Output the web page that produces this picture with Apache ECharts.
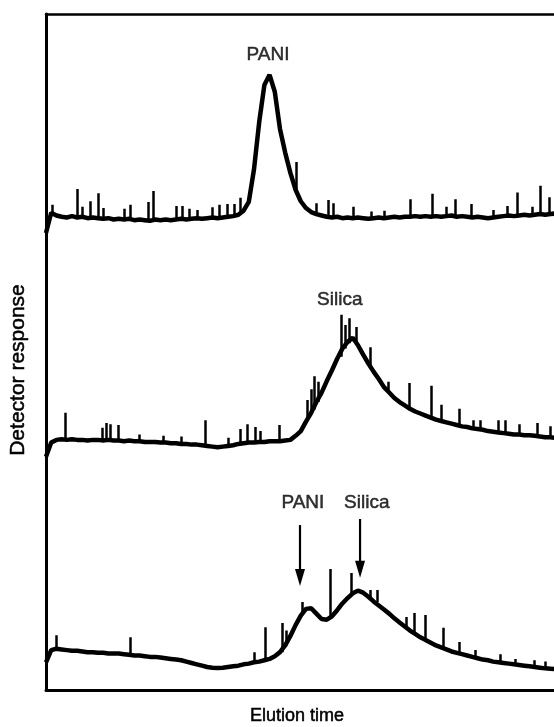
<!DOCTYPE html>
<html><head><meta charset="utf-8">
<script src="https://cdn.jsdelivr.net/npm/echarts@6/dist/echarts.min.js"></script>
<style>html,body{margin:0;padding:0;background:#fff}#c{width:554px;height:727px}</style>
</head><body><div id="c"></div>
<script>
// Detector response (arbitrary units, traces offset vertically), one value per sample index
const traceTop = [67.6,70.6,70.2,70.0,69.9,70.1,69.9,70.0,69.8,69.9,
 69.8,69.7,69.8,69.6,69.7,69.6,69.7,69.5,69.6,69.5,
 69.4,69.6,69.5,69.6,69.5,69.6,69.7,69.6,69.7,69.8,
 69.7,69.8,69.9,69.8,69.9,70.0,70.1,70.3,70.9,72.2,
 77.0,84.0,89.5,91.0,88.5,83.0,79.5,76.5,74.0,72.3,
 71.3,70.7,70.4,70.2,70.0,69.9,70.0,69.8,69.9,69.8,
 69.9,69.8,69.7,69.8,69.9,69.8,69.9,70.0,69.9,70.0,
 70.0,70.1,70.0,70.1,70.0,70.1,70.0,70.1,70.2,70.0,
 70.1,70.0,69.9,70.0,69.9,69.8,69.9,70.0,70.1,70.2,
 70.1,70.2,70.3,70.2,70.3,70.4,70.3,70.4,70.5,70.4,
 70.5];
const traceMiddle = [34.5,36.6,37.0,37.1,37.0,37.1,37.0,37.0,36.9,37.0,
 37.0,36.9,37.0,36.9,36.9,36.8,36.9,36.8,36.8,36.7,
 36.7,36.7,36.6,36.6,36.5,36.5,36.4,36.4,36.3,36.3,
 36.2,36.1,36.0,35.9,36.0,36.1,36.2,36.4,36.5,36.6,
 36.6,36.7,36.7,36.8,36.8,36.8,36.9,37.0,37.6,38.3,
 39.7,41.0,42.6,44.0,45.7,47.3,49.0,50.5,51.5,52.1,
 51.0,49.6,48.3,47.1,46.0,44.8,44.0,43.2,42.6,42.1,
 41.6,41.2,40.9,40.6,40.3,40.0,39.8,39.6,39.4,39.2,
 39.0,38.9,38.7,38.6,38.5,38.3,38.2,38.1,38.0,37.9,
 37.8,37.8,37.7,37.7,37.6,37.5,37.4,37.4,37.3,37.3,
 37.2];
const traceBottom = [4.1,5.9,6.1,6.0,5.9,5.8,5.8,5.7,5.6,5.6,
 5.5,5.5,5.4,5.4,5.4,5.3,5.2,5.1,5.1,5.0,
 4.9,4.9,4.8,4.7,4.6,4.5,4.4,4.2,4.0,3.8,
 3.6,3.4,3.3,3.25,3.3,3.4,3.5,3.6,3.8,3.9,
 4.1,4.2,4.4,4.6,5.0,5.6,6.6,8.0,9.6,11.0,
 12.0,12.1,11.3,10.5,10.4,10.9,11.8,12.8,13.6,14.3,
 14.7,14.4,13.8,13.1,12.5,11.9,11.3,10.6,10.0,9.4,
 8.8,8.3,7.8,7.4,7.0,6.6,6.3,6.0,5.7,5.5,
 5.3,5.1,4.9,4.7,4.5,4.4,4.2,4.1,4.0,3.9,
 3.8,3.7,3.6,3.5,3.4,3.3,3.2,3.15,3.1,3.05,
 3.0];

// Noise spikes: [time, base, top]
const spikesTop = [[1.2,70.3,71.8],[6.0,69.9,74.1],[7.0,69.9,71.5],[8.5,69.8,72.3],[10.0,69.8,73.5],
 [11.0,69.7,71.3],[15.0,69.6,71.2],[16.2,69.7,71.8],[19.6,69.5,72.2],[20.6,69.4,73.8],
 [25.0,69.5,71.6],[26.2,69.7,71.6],[27.5,69.6,71.2],[29.0,69.8,71.0],[31.9,69.9,71.4],
 [33.3,69.8,71.8],[34.8,69.9,71.9],[36.2,70.1,71.9],[37.3,70.3,72.8],[48.1,74.0,78.1],[52.0,70.4,72.0],
 [54.2,70.0,72.5],[55.3,69.9,72.0],[59.0,69.8,71.5],[62.5,69.8,70.8],[65.0,69.8,70.9],[70.0,70.0,72.6],
 [74.2,70.0,73.4],[77.0,70.1,71.5],[78.7,70.2,72.6],[81.7,70.0,71.9],[86.0,69.9,71.0],
 [88.7,70.1,71.6],[90.6,70.1,73.6],[93.5,70.2,71.5],[95.0,70.4,74.6],[96.7,70.3,72.9]];
const spikesMiddle = [[3.65,37.0,41.0],[10.8,37.0,38.8],[11.5,37.0,39.5],[12.3,37.0,39.3],[13.8,36.9,39.2],
 [18.0,36.8,37.8],[22.5,36.7,37.6],[26.0,36.5,37.5],[30.6,36.2,39.9],[35.0,36.0,37.3],
 [37.3,36.4,38.6],[38.7,36.5,39.3],[40.2,36.6,38.9],[41.3,36.7,38.3],[44.8,36.8,39.2],
 [50.2,39.8,42.9],[51.0,41.0,44.5],[51.5,41.5,46.4],[52.3,42.6,45.6],[56.7,49.3,55.5],
 [57.5,50.5,54.0],[58.3,51.3,55.0],[59.6,51.3,53.7],[62.3,48.0,50.7],[65.8,44.2,45.6],
 [69.8,41.7,45.4],[74.0,40.3,45.0],[76.0,39.8,42.2],[79.4,39.1,41.6],[82.1,38.7,39.9],
 [83.5,38.5,39.9],[86.9,38.1,39.9],[88.3,38.0,39.9],[91.0,37.8,39.3],[94.4,37.6,39.5],
 [97.0,37.3,39.0]];
const spikesBottom = [[1.9,6.1,8.1],[16.2,5.2,7.8],[40.0,4.1,5.6],[42.1,4.4,9.3],[45.4,5.6,9.9],
 [46.3,6.6,8.8],[49.2,11.2,13.0],[54.6,10.6,17.9],[58.7,14.0,17.3],[62.3,13.6,14.8],
 [63.8,13.0,14.8],[69.2,9.2,10.8],[70.9,8.4,11.4],[72.9,7.5,11.1],[76.4,6.2,9.2],
 [79.4,5.4,7.1],[82.5,4.8,5.9],[87.3,4.1,5.3],[90.2,3.8,4.6],[93.9,3.5,4.4],[96.0,3.2,4.2]];

// Annotations
const labelTexts = ['PANI','Silica','PANI','Silica'];
const labelTimes = [42.7,56.5,49.4,61.7];
const labelLevels = [93.9,57.7,27.7,27.7];
// Arrows: [time, from level, to level]
const arrows = [[48.85,24.4,15.4],[60.4,25.3,16.6]];

// Visible window of the elution-time axis (the plot is cut at the right edge)
const timeMin = 0, timeMax = 97.7;
const respMin = 0, respMax = 100;

const xTitle = 'Elution time';
const yTitle = 'Detector response';

const FONT = '"Liberation Sans", Arial, Helvetica, sans-serif';
const chart = echarts.init(document.getElementById('c'), null, {renderer:'canvas'});

function lineData(arr){ return arr.map((v,i)=>[i,v]); }
function spikeData(arr){ return arr.map(s=>({coords:[[s[0],s[1]],[s[0],s[2]]]})); }

const traceStyle = {type:'line', symbol:'none', showSymbol:false, animation:false, silent:true, clip:true,
  lineStyle:{color:'#000', width:4.5}, z:3};
const spikeStyle = {type:'lines', coordinateSystem:'cartesian2d', animation:false, silent:true,
  lineStyle:{color:'#000', width:2.5, opacity:1}, z:2};
const hiddenAxis = {axisTick:{show:false}, axisLabel:{show:false}, splitLine:{show:false}};

chart.setOption({
  animation:false,
  grid:{left:46, top:14, right:0, bottom:37, show:false},
  xAxis:[
    Object.assign({type:'value', min:timeMin, max:timeMax, position:'bottom', axisLine:{show:true, onZero:false, lineStyle:{color:'#000', width:3}}}, hiddenAxis),
    Object.assign({type:'value', min:timeMin, max:timeMax, position:'top', axisLine:{show:true, onZero:false, lineStyle:{color:'#000', width:2.5}}}, hiddenAxis)
  ],
  yAxis:Object.assign({type:'value', min:respMin, max:respMax, axisLine:{show:true, onZero:false, lineStyle:{color:'#000', width:3}}}, hiddenAxis),
  graphic:[
    {type:'text', x:297, y:716, style:{text:xTitle, font:'18px '+FONT, fill:'#000', stroke:'#000', lineWidth:0.5, align:'center', verticalAlign:'middle'}},
    {type:'text', rotation:Math.PI/2, x:18, y:370, style:{text:yTitle, font:'21px '+FONT, fill:'#000', stroke:'#000', lineWidth:0.5, align:'center', verticalAlign:'middle'}}
  ],
  series:[
    Object.assign({name:'top', data:lineData(traceTop)}, traceStyle),
    Object.assign({name:'middle', data:lineData(traceMiddle)}, traceStyle),
    Object.assign({name:'bottom', data:lineData(traceBottom)}, traceStyle),
    Object.assign({name:'spikesTop', data:spikeData(spikesTop)}, spikeStyle),
    Object.assign({name:'spikesMiddle', data:spikeData(spikesMiddle)}, spikeStyle),
    Object.assign({name:'spikesBottom', data:spikeData(spikesBottom)}, spikeStyle),
    {type:'scatter', name:'labels', symbolSize:1, itemStyle:{color:'rgba(0,0,0,0)'}, silent:true,
     data:labelTexts.map((t,i)=>({value:[labelTimes[i],labelLevels[i]], name:t})),
     label:{show:true, position:'inside', formatter:p=>p.name, color:'#000', fontSize:19, fontFamily:FONT,
            textBorderColor:'#000', textBorderWidth:0.5}, z:5},
    {type:'custom', name:'arrows', silent:true, data:arrows, z:5,
     renderItem:function(params, api){
       const a = api.coord([api.value(0), api.value(1)]);
       const b = api.coord([api.value(0), api.value(2)]);
       const hl = 17, hw = 5;
       return {type:'group', children:[
         {type:'line', shape:{x1:a[0], y1:a[1], x2:b[0], y2:b[1]-hl+2}, style:{stroke:'#000', lineWidth:2.2}},
         {type:'polygon', shape:{points:[[b[0]-hw,b[1]-hl],[b[0]+hw,b[1]-hl],[b[0],b[1]]]}, style:{fill:'#000'}}
       ]};
     }}
  ]
});
</script></body></html>
